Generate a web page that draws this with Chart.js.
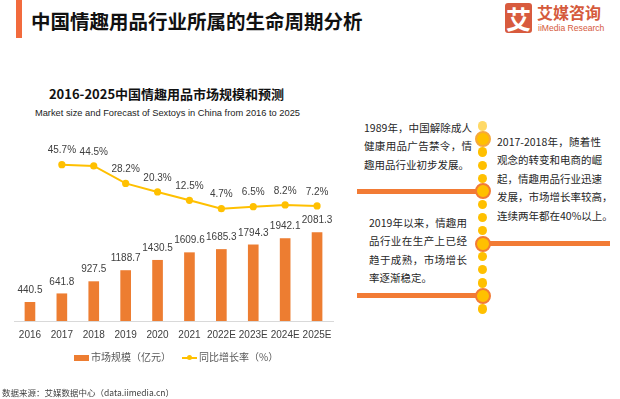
<!DOCTYPE html>
<html>
<head>
<meta charset="utf-8">
<script src="https://cdn.jsdelivr.net/npm/chart.js@4.4.0/dist/chart.umd.min.js"></script>
<style>
  body { margin: 0; }
  #page { position: relative; width: 620px; height: 399px; background: #fff; overflow: hidden;
    font-family: "Noto Sans CJK SC", "Noto Sans", sans-serif; color: #262626; }
  .abs { position: absolute; white-space: nowrap; }
  #chart { position: absolute; left: 0; top: 0; }
  .block { position: absolute; font-size: 10.5px; line-height: 18.5px; color: #262626; }
  .block div { white-space: nowrap; }
  .block div.j { text-align: justify; text-align-last: justify; }
  .dot { position: absolute; border-radius: 50%; background: #FFC000; }
  .hline { position: absolute; height: 5px; background: #F27B35; }
</style>
</head>
<body>
<div id="page">
  <div class="abs" style="left:16px;top:0;width:6px;height:38px;background:#F26B3D;"></div>
  <div class="abs" style="left:31px;top:9px;font-size:19.5px;line-height:24px;font-weight:bold;color:#111;">中国情趣用品行业所属的生命周期分析</div>

  <div class="abs" style="left:505px;top:3px;width:27px;height:30px;border-radius:3px;background:#D85B3E;color:#fff;font-size:25px;font-weight:bold;line-height:30px;text-align:center;">艾</div>
  <div class="abs" style="left:537px;top:3px;font-size:16px;line-height:18px;font-weight:bold;color:#D55A3C;">艾媒咨询</div>
  <div class="abs" style="left:538px;top:22px;font-size:8.6px;line-height:12px;color:#D55A3C;font-family:'Liberation Sans',sans-serif;">iiMedia Research</div>

  <div class="abs" style="left:0;top:86px;width:333px;text-align:center;font-size:13px;line-height:16px;font-weight:bold;color:#111;">2016-2025中国情趣用品市场规模和预测</div>
  <div class="abs" style="left:0;top:107px;width:335px;text-align:center;font-size:9.3px;line-height:12px;color:#222;font-family:'Liberation Sans',sans-serif;">Market size and Forecast of Sextoys in China from 2016 to 2025</div>

  <canvas id="chart" width="345" height="399"></canvas>

  <div class="abs" style="left:74px;top:355px;width:15px;height:6px;background:#ED7D31;"></div>
  <div class="abs" style="left:91px;top:350px;font-size:10px;line-height:14px;color:#595959;">市场规模（亿元）</div>
  <div class="abs" style="left:182px;top:356.5px;width:15px;height:2px;background:#FFC000;"></div>
  <div class="abs" style="left:186.5px;top:355px;width:5px;height:5px;border-radius:50%;background:#FFC000;"></div>
  <div class="abs" style="left:199px;top:350px;font-size:10px;line-height:14px;color:#595959;">同比增长率（%）</div>

  <div class="abs" style="left:2px;top:386px;font-size:8.5px;line-height:12px;color:#404040;">数据来源：艾媒数据中心（data.iimedia.cn）</div>

  <div id="timeline"></div>

  <div class="block" style="left:364px;top:118.75px;width:108px;">
    <div class="j">1989年，中国解除成人</div>
    <div class="j">健康用品广告禁令，情</div>
    <div>趣用品行业初步发展。</div>
  </div>
  <div class="block" style="left:497px;top:132.75px;width:104px;">
    <div class="j">2017-2018年，随着性</div>
    <div class="j">观念的转变和电商的崛</div>
    <div class="j">起，情趣用品行业迅速</div>
    <div>发展，市场增长率较高，</div>
    <div>连续两年都在40%以上。</div>
  </div>
  <div class="block" style="left:369px;top:213.75px;width:98px;">
    <div class="j">2019年以来，情趣用</div>
    <div class="j">品行业在生产上已经</div>
    <div class="j">趋于成熟，市场增长</div>
    <div>率逐渐稳定。</div>
  </div>
</div>

<script>
const years = ["2016", "2017", "2018", "2019", "2020", "2021", "2022E", "2023E", "2024E", "2025E"];
const marketSize = [440.5, 641.8, 927.5, 1188.7, 1430.5, 1609.6, 1685.3, 1794.3, 1942.1, 2081.3];
const growthRates = [null, 45.7, 44.5, 28.2, 20.3, 12.5, 4.7, 6.5, 8.2, 7.2];

const ORANGE = "#ED7D31";
const GOLD = "#FFC000";

// timeline decoration on the right
function drawTimeline() {
  const box = document.getElementById("timeline");
  const cx = 482.7;
  const step = 13.07;
  const lines = { 5: [357, 483], 9: [483, 610], 13: [357, 483] };
  Object.keys(lines).forEach((i) => {
    const y = 126 + step * i;
    const el = document.createElement("div");
    el.className = "hline";
    el.style.left = lines[i][0] + "px";
    el.style.width = lines[i][1] - lines[i][0] + "px";
    el.style.top = y - 2.5 + "px";
    box.appendChild(el);
  });
  for (let i = 0; i < 15; i++) {
    const y = 126 + step * i;
    const big = i % 4 === 1;
    const r = big ? 8 : 4.7;
    const el = document.createElement("div");
    el.className = "dot";
    el.style.left = cx - r + "px";
    el.style.top = y - r + "px";
    el.style.width = r * 2 + "px";
    el.style.height = r * 2 + "px";
    if (i === 0) el.style.background = "#FFD966";
    if (big) {
      el.style.boxSizing = "border-box";
      el.style.border = "2.6px solid " + (i === 1 ? "#F6A83C" : "#F27B35");
    }
    box.appendChild(el);
  }
}
drawTimeline();

const valueLabels = {
  id: "valueLabels",
  afterDatasetsDraw(chart) {
    const ctx = chart.ctx;
    ctx.save();
    ctx.font = "10px 'Liberation Sans', Arial, sans-serif";
    ctx.fillStyle = "#404040";
    ctx.textAlign = "center";
    ctx.textBaseline = "middle";
    chart.data.datasets.forEach((ds, di) => {
      const meta = chart.getDatasetMeta(di);
      meta.data.forEach((el, i) => {
        const v = ds.data[i];
        if (v === null) return;
        if (ds.type === "line") {
          ctx.fillText(v.toFixed(1) + "%", el.x, el.y - 14);
        } else {
          ctx.fillText(v.toFixed(1), el.x, el.y - 12);
        }
      });
    });
    ctx.restore();
  },
};

new Chart(document.getElementById("chart").getContext("2d"), {
  type: "bar",
  data: {
    labels: years,
    datasets: [
      {
        type: "line",
        label: "同比增长率（%）",
        data: growthRates,
        yAxisID: "y1",
        borderColor: GOLD,
        backgroundColor: GOLD,
        borderWidth: 2,
        pointRadius: 3.6,
        pointBorderWidth: 0,
        tension: 0,
        order: 0,
      },
      {
        type: "bar",
        label: "市场规模（亿元）",
        data: marketSize,
        yAxisID: "y",
        backgroundColor: ORANGE,
        barThickness: 10,
        order: 1,
      },
    ],
  },
  options: {
    responsive: false,
    animation: false,
    layout: { padding: { left: 14, right: 12, top: 130, bottom: 50 } },
    plugins: {
      legend: { display: false },
      tooltip: { enabled: false },
    },
    scales: {
      x: {
        grid: { display: false, drawTicks: false },
        border: { display: true, color: "#D9D9D9", width: 1 },
        ticks: {
          color: "#404040",
          padding: 8,
          autoSkip: false,
          maxRotation: 0,
          minRotation: 0,
          font: { size: 10, family: "'Liberation Sans', Arial, sans-serif" },
        },
      },
      y: { display: false, min: 0, max: 4500 },
      y1: { display: false, min: -100, max: 78 },
    },
  },
  plugins: [valueLabels],
});
</script>
</body>
</html>
